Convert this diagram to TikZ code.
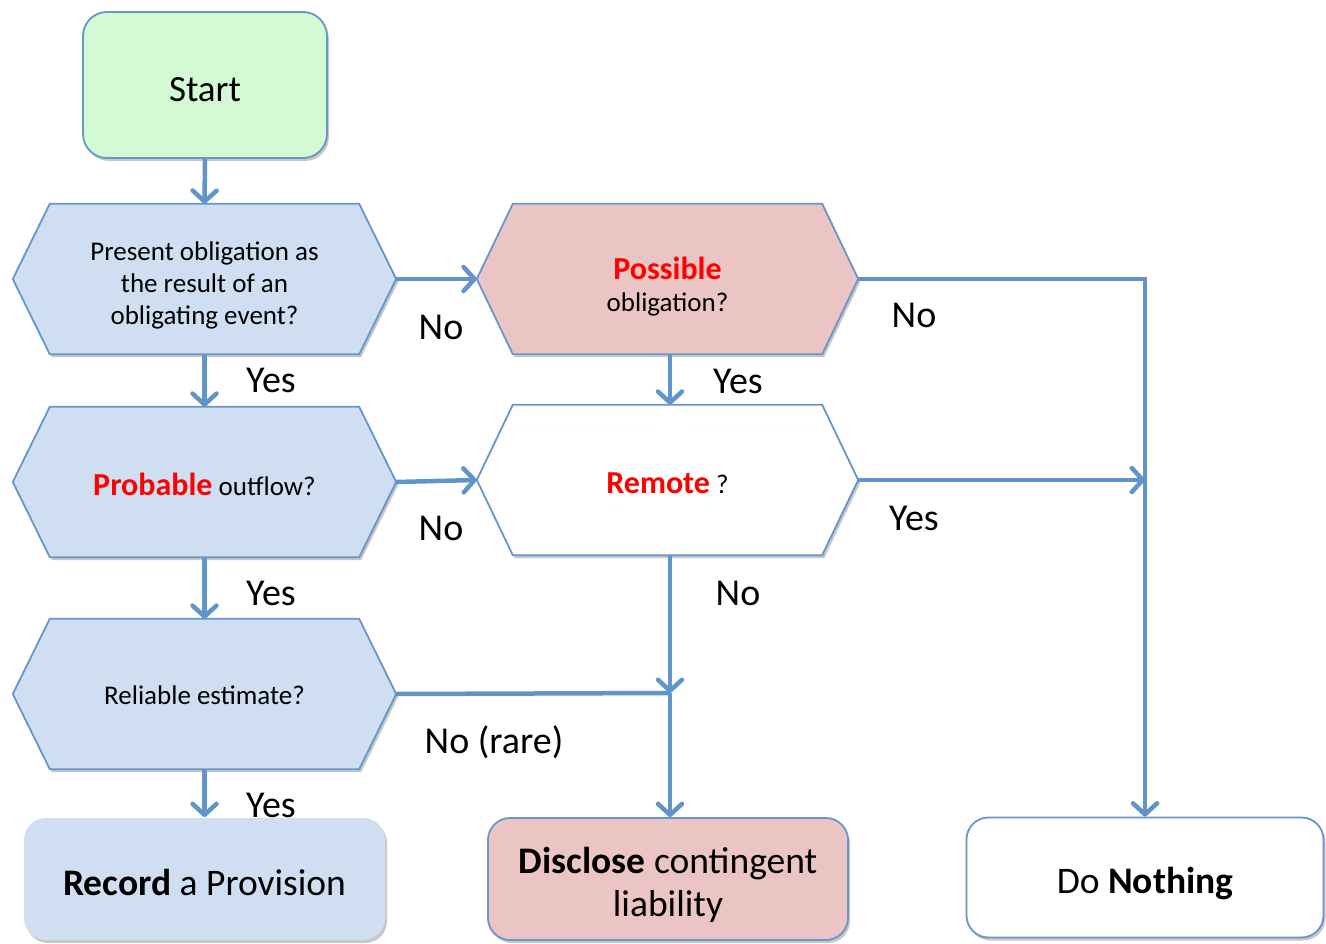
\documentclass[tikz,border=0pt]{standalone}
\usepackage{fontspec}
\setmainfont{Carlito}
\usetikzlibrary{arrows.meta,shadows,backgrounds}

\definecolor{edge}{HTML}{6796CB}
\definecolor{flow}{HTML}{6195CA}
\definecolor{qblue}{HTML}{CFDFF1}
\definecolor{qpink}{HTML}{EBC5C4}
\definecolor{sgreen}{HTML}{D4FAD4}
\definecolor{hot}{HTML}{FF0000}

\tikzset{
  softshadow/.style={drop shadow={shadow xshift=2pt,shadow yshift=-3pt,opacity=0.22,fill=black}},
  box/.style={rounded corners=24pt, draw=edge, line width=1.8pt, softshadow},
  question/.style={minimum height=150pt, inner sep=0pt},
  hexpath/.style={draw=edge, line width=1.8pt, softshadow},
  flowline/.style={draw=flow, line width=4.5pt},
  arr/.style={flowline, -{Straight Barb[length=11pt,width=24pt,round]}},
  lab/.style={font=\fontsize{38}{42}\selectfont, inner sep=0pt},
  qtext/.style={font=\fontsize{27}{32}\selectfont, align=center, inner sep=0pt},
  outtext/.style={font=\fontsize{37.5}{43}\selectfont, align=center, inner sep=0pt},
}
\newcommand\keyword[1]{{\fontsize{32}{36}\selectfont\bfseries\color{hot}#1}}

% hexagon outline around a question node: #1 node, #2 fill, #3 indent of the points
\newcommand\hexof[3]{%
  \path[hexpath, fill=#2] (#1.west) -- ([xshift=#3]#1.north west)
    -- ([xshift=-#3]#1.north east) -- (#1.east)
    -- ([xshift=-#3]#1.south east) -- ([xshift=#3]#1.south west) -- cycle;}

\begin{document}
\begin{tikzpicture}[x=1pt,y=-1pt]
\useasboundingbox (0,0) rectangle (1326,944);

% start box
\node[box, fill=sgreen, minimum width=244pt, minimum height=146pt,
      label={[name=tstart, yshift=-5pt, font=\fontsize{37}{40}\selectfont]center:Start}]
      (start) at (205,85) {};

% question hexagons (outlines go on the background layer)
\node[question, minimum width=383pt,
      label={[name=tq1, yshift=-6pt, qtext]center:Present obligation as\\the result of an\\obligating event?}]
      (q1) at (204.5,279) {};
\node[question, minimum width=381pt,
      label={[name=tq2, yshift=-8pt, qtext]center:\keyword{Possible}\\obligation?}]
      (q2) at (667.5,279) {};
\node[question, minimum width=383pt,
      label={[name=tq3, yshift=-2pt, qtext]center:\keyword{Probable} outflow?}]
      (q3) at (204.5,482) {};
\node[question, minimum width=381pt,
      label={[name=tq4, yshift=-3pt, qtext]center:\keyword{Remote} ?}]
      (q4) at (667.5,480) {};
\node[question, minimum width=383pt,
      label={[name=tq5, yshift=-1pt, qtext]center:Reliable estimate?}]
      (q5) at (204.5,694) {};

\begin{scope}[on background layer]
  \hexof{q1}{qblue}{37pt}
  \hexof{q2}{qpink}{36pt}
  \hexof{q3}{qblue}{37pt}
  \hexof{q4}{white}{36pt}
  \hexof{q5}{qblue}{37pt}
\end{scope}

% outcome boxes
\node[box, draw=none, fill=qblue, rounded corners=22pt, minimum width=361pt,
      minimum height=122pt,
      label={[name=trec, yshift=-3pt, outtext]center:\textbf{Record} a Provision}]
      (rec) at (204.5,879) {};
\node[box, fill=qpink, rounded corners=22pt, minimum width=360pt,
      minimum height=122pt,
      label={[name=tdis, yshift=-6pt, outtext]center:\textbf{Disclose} contingent\\liability}]
      (dis) at (668,879) {};
\node[box, fill=white, rounded corners=22pt, minimum width=357pt,
      minimum height=120pt,
      label={[name=tnone, yshift=-6pt, outtext]center:Do \textbf{Nothing}}]
      (none) at (1145,877.5) {};

% junction points
\coordinate (j) at (670,693);
\coordinate (k) at (1145,279);

% connectors
\draw[arr] (start.south) -- (q1.north);
\draw[arr] (q1.south) -- (q3.north);
\draw[arr] (q3.south) -- (q5.north);
\draw[arr] (q5.south) -- (rec.north);
\draw[arr] (q1.east) -- (q2.west);
\draw[arr] (q3.east) -- (q4.west);
\draw[arr] (q2.south -| j) -- (q4.north -| j);
\draw[arr] (q4.south -| j) -- (j);
\draw[flowline] (q5.east) -- (j);
\draw[arr] (j) -- (dis.north -| j);
\draw[arr] (q2.east) -- (k) -- (none.north -| k);
\draw[arr] (q4.east) -- (q4.east -| k);

% branch labels
\node[lab] (l1) at (271,380) {Yes};
\node[lab] (l2) at (271,593) {Yes};
\node[lab] (l3) at (271,805) {Yes};
\node[lab] (l4) at (441,327) {No};
\node[lab] (l5) at (441,528) {No};
\node[lab] (l6) at (738,381) {Yes};
\node[lab] (l7) at (738,593) {No};
\node[lab] (l8) at (494,742) {No (rare)};
\node[lab] (l9) at (914,315) {No};
\node[lab] (l10) at (914,518) {Yes};
\end{tikzpicture}
\end{document}
